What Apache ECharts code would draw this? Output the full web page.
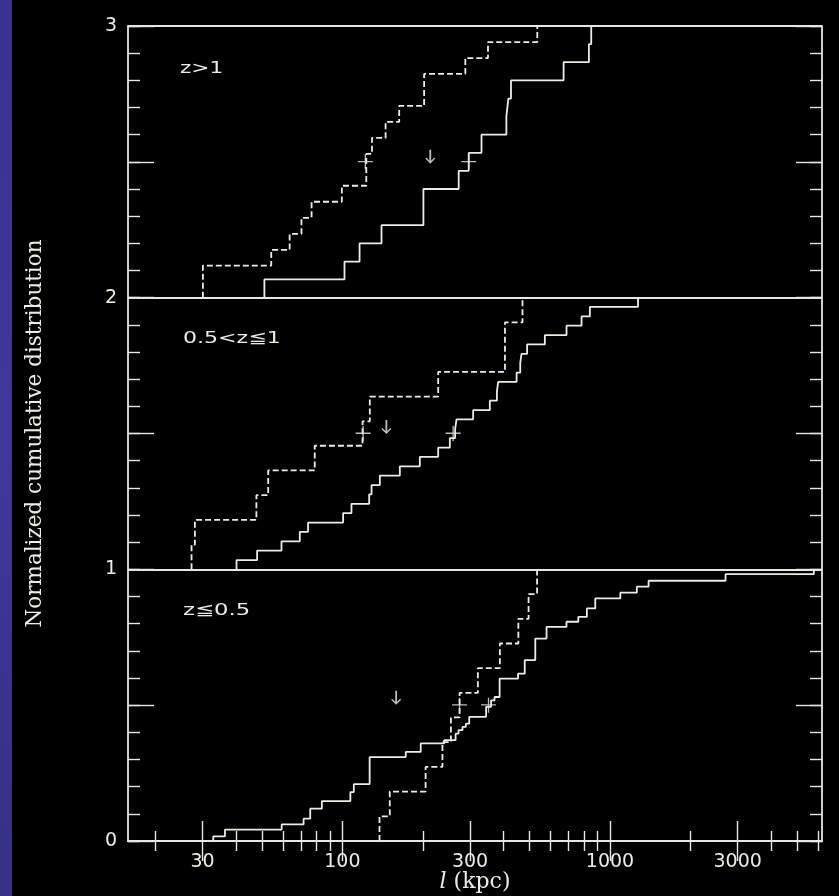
<!DOCTYPE html>
<html>
<head>
<meta charset="utf-8">
<script src="https://cdn.jsdelivr.net/npm/echarts@6/dist/echarts.min.js"></script>
<style>
  html, body { margin: 0; padding: 0; background: #000; }
  #chart { width: 839px; height: 896px; }
</style>
</head>
<body>
<div id="chart"></div>
<script>
// Separation l (kpc) at each step of the cumulative distributions and the
// cumulative fraction reached after that step, per redshift bin.
// z > 1
const hiDashL  = [30.1, 54.2, 63.5, 70.3, 76.7, 99.5, 122.8, 129, 145, 163, 202, 288, 350, 535];
const hiDashF  = [0.118, 0.176, 0.235, 0.294, 0.353, 0.412, 0.529, 0.588, 0.647, 0.706, 0.824, 0.882, 0.941, 1.0];
const hiSolidL = [51.1, 101.8, 115.9, 140, 200.8, 272, 296.5, 331, 410, 417, 426.6, 671, 834, 851];
const hiSolidF = [0.067, 0.133, 0.2, 0.267, 0.4, 0.467, 0.533, 0.6, 0.667, 0.733, 0.8, 0.867, 0.933, 1.0];
// 0.5 < z <= 1
const midDashL  = [27.3, 28.1, 47.7, 52.8, 78.8, 118.9, 126.6, 228, 405, 471];
const midDashF  = [0.091, 0.182, 0.273, 0.364, 0.455, 0.545, 0.636, 0.727, 0.909, 1.0];
const midSolidL = [40.2, 48.0, 59.2, 69.3, 74.4, 100.6, 108.1, 125.9, 128.5, 138, 163.9, 194.7, 228, 252,
                   263.8, 267, 308, 355.6, 378, 382, 447.7, 462, 467, 490, 571, 688, 783, 841, 1273];
const midSolidF = [0.034, 0.069, 0.103, 0.138, 0.172, 0.207, 0.241, 0.276, 0.310, 0.345, 0.379, 0.414,
                   0.448, 0.483, 0.517, 0.552, 0.586, 0.621, 0.655, 0.690, 0.724, 0.759, 0.793, 0.828,
                   0.862, 0.897, 0.931, 0.966, 1.0];
// z <= 0.5
const loDashL  = [137.6, 150.3, 204.6, 236.5, 254.4, 274.1, 320.8, 387.7, 454.6, 496.3, 534];
const loDashF  = [0.091, 0.182, 0.273, 0.364, 0.455, 0.545, 0.636, 0.727, 0.818, 0.909, 1.0];
const loSolidL = [32.9, 36.4, 59.3, 71.6, 75.8, 83.8, 107.1, 110.3, 126.4, 172.5, 196.2, 240, 264.8, 271.6,
                  281, 289.2, 297.8, 344.4, 359.4, 370.3, 386.8, 453.4, 480.2, 525.8, 579.4, 687.7, 761.4,
                  819.7, 881, 1093, 1260, 1394, 2703, 5780];
const loSolidF = [0.017, 0.042, 0.061, 0.082, 0.119, 0.147, 0.180, 0.209, 0.309, 0.328, 0.359, 0.371, 0.395,
                  0.408, 0.420, 0.432, 0.457, 0.494, 0.518, 0.530, 0.598, 0.616, 0.666, 0.745, 0.788, 0.807,
                  0.825, 0.856, 0.893, 0.914, 0.936, 0.958, 0.982, 1.0];

// Panel offsets on the stacked y scale
const panelBase = { hi: 2, mid: 1, lo: 0 };
const panelNames = ['z>1', '0.5<z\u22661', 'z\u22660.5'];

// Medians (crosses) and arrow markers: l (kpc) and stacked level
const medianL = [121.8, 296.5, 119.5, 259.3, 274, 351.6];
const medianV = [2.5, 2.5, 1.5, 1.5, 0.5, 0.5];
const arrowL = [213, 146, 158.8];
const arrowV = [2.519, 1.524, 0.527];

// Axis ticks
const majorTicks = [30, 100, 300, 1000, 3000];
const minorTicks = [20, 40, 50, 60, 70, 80, 90, 200, 400, 500, 600, 700, 800, 900, 2000, 4000, 5000, 6000];
const xRange = [15.8, 6200];

const lg = Math.log10;
const FG = '#ecece4';
const AX = '#e6e6e6';

function steps(ls, fs, base) {
  const d = [[lg(ls[0]), base]];
  ls.forEach((l, i) => d.push([lg(l), base + fs[i]]));
  return d;
}

function stepSeries(ls, fs, base, dashed) {
  return {
    type: 'line', xAxisIndex: 0, yAxisIndex: 0, step: 'end', symbol: 'none',
    data: steps(ls, fs, base), silent: true,
    lineStyle: { color: FG, width: 1.8, type: dashed ? [6, 3] : 'solid' }
  };
}

const xMin = lg(xRange[0]), xMax = lg(xRange[1]);
// All three grids share one rectangle; labels and names may sit outside it.
const gridRect = { left: 128, right: 17, top: 26, bottom: 55, containLabel: false, outerBoundsMode: 'none' };

function xAx(grid, pos, ticks, len, extra) {
  return Object.assign({
    type: 'value', gridIndex: grid, position: pos, min: xMin, max: xMax,
    splitLine: { show: false },
    axisLine: { show: false },
    axisTick: { show: true, inside: true, length: len, customValues: ticks.map(lg),
                lineStyle: { color: AX, width: 1.4 } },
    axisLabel: { show: false }
  }, extra || {});
}
function yAx(grid, pos, interval, len, extra) {
  return Object.assign({
    type: 'value', gridIndex: grid, position: pos, min: 0, max: 3, interval: interval,
    splitLine: { show: false },
    axisLine: { show: false },
    axisTick: { show: len > 0, inside: true, length: len, lineStyle: { color: AX, width: 1.4 } },
    axisLabel: { show: false }
  }, extra || {});
}

const labelFont = { color: FG, fontFamily: 'DejaVu Sans', fontSize: 19 };

const option = {
  backgroundColor: '#000',
  animation: false,
  grid: [0, 1, 2].map(() => Object.assign({}, gridRect)),
  graphic: [
    { type: 'rect', left: 0, top: 0, shape: { width: 12, height: 896 },
      style: { fill: new echarts.graphic.LinearGradient(0, 0, 0, 1, [
        { offset: 0, color: '#3a3290' }, { offset: 0.5, color: '#40379a' }, { offset: 1, color: '#382f86' }]) } },
    { type: 'text', x: 180, y: 69, scaleX: 1.35,
      style: { text: panelNames[0], fill: FG, font: '16px "DejaVu Sans"', verticalAlign: 'middle' } },
    { type: 'text', x: 183, y: 339, scaleX: 1.38,
      style: { text: panelNames[1], fill: FG, font: '16px "DejaVu Sans"', verticalAlign: 'middle' } },
    { type: 'text', x: 183, y: 611, scaleX: 1.42,
      style: { text: panelNames[2], fill: FG, font: '16px "DejaVu Sans"', verticalAlign: 'middle' } }
  ],
  xAxis: [
    xAx(0, 'bottom', majorTicks, 20, {
      axisLine: { show: true, lineStyle: { color: AX, width: 1.8 } },
      axisLabel: Object.assign({ show: true, margin: 12, customValues: majorTicks.map(lg),
        formatter: v => String(Math.round(Math.pow(10, v))) }, labelFont),
      name: '{it|l} (kpc)', nameLocation: 'middle', nameGap: 30, nameMoveOverlap: false,
      nameTextStyle: { color: FG, fontFamily: 'DejaVu Serif', fontSize: 22,
        rich: { it: { fontStyle: 'italic', fontFamily: 'DejaVu Serif', fontSize: 22, color: FG } } }
    }),
    xAx(0, 'top', majorTicks, 20, { axisLine: { show: true, lineStyle: { color: AX, width: 1.8 } } }),
    xAx(1, 'bottom', minorTicks, 10),
    xAx(1, 'top', minorTicks, 10),
    xAx(2, 'bottom', [], 0, { show: false })
  ],
  yAxis: [
    yAx(0, 'left', 1, 0, {
      axisLine: { show: true, lineStyle: { color: AX, width: 1.8 } },
      splitLine: { show: true, lineStyle: { color: AX, width: 1.8 } },
      axisLabel: Object.assign({ show: true, margin: 11 }, labelFont),
      name: 'Normalized cumulative distribution', nameLocation: 'middle', nameGap: 82,
      nameTextStyle: { color: FG, fontFamily: 'DejaVu Serif', fontSize: 21.5 }
    }),
    yAx(0, 'right', 0.5, 26, { axisLine: { show: true, lineStyle: { color: AX, width: 1.8 } } }),
    yAx(1, 'left', 0.5, 26),
    yAx(1, 'right', 0.1, 12),
    yAx(2, 'left', 0.1, 12)
  ],
  series: [
    stepSeries(hiDashL, hiDashF, panelBase.hi, true),
    stepSeries(hiSolidL, hiSolidF, panelBase.hi, false),
    stepSeries(midDashL, midDashF, panelBase.mid, true),
    stepSeries(midSolidL, midSolidF, panelBase.mid, false),
    stepSeries(loDashL, loDashF, panelBase.lo, true),
    stepSeries(loSolidL, loSolidF, panelBase.lo, false),
    {
      type: 'scatter', xAxisIndex: 0, yAxisIndex: 0, silent: true,
      symbol: 'path://M0,7 L16,7 L16,8.4 L0,8.4 Z M7.3,0 L8.7,0 L8.7,16 L7.3,16 Z',
      symbolSize: 15, itemStyle: { color: FG },
      data: medianL.map((l, i) => [lg(l), medianV[i]])
    },
    {
      type: 'scatter', xAxisIndex: 0, yAxisIndex: 0, silent: true,
      symbol: 'path://M4.1,0 L5.9,0 L5.9,11.2 L9,8.1 L10,9.1 L5,14.3 L0,9.1 L1,8.1 L4.1,11.2 Z',
      symbolSize: [10, 14], itemStyle: { color: FG },
      data: arrowL.map((l, i) => [lg(l), arrowV[i]])
    }
  ]
};

const chart = echarts.init(document.getElementById('chart'), null, { renderer: 'canvas' });
chart.setOption(option);
</script>
</body>
</html>
